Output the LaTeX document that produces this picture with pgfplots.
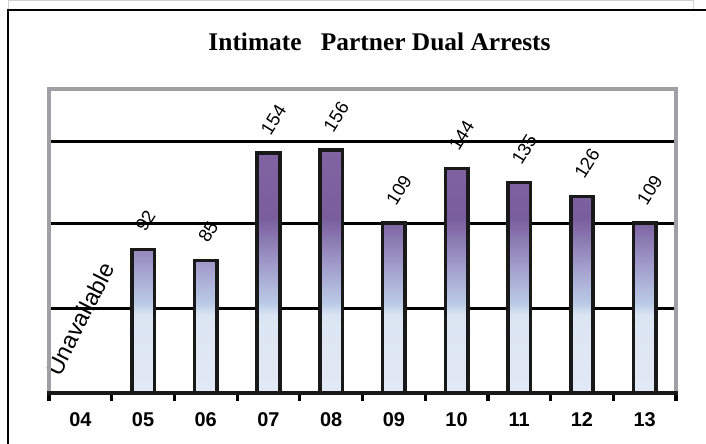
\documentclass[border=0pt]{standalone}
\usepackage{fontspec}
\setmainfont{Liberation Sans}
\newfontfamily\titlefont{Liberation Serif}
\usepackage{pgfplots}
\pgfplotsset{compat=1.18}
\definecolor{ctop}{RGB}{128,100,162}
\definecolor{cdark}{RGB}{121,93,157}
\definecolor{cmid}{RGB}{162,158,204}
\definecolor{clblue}{RGB}{186,202,230}
\definecolor{cpale2}{RGB}{220,229,243}
\definecolor{cpale}{RGB}{226,233,246}
\definecolor{framegray}{RGB}{160,160,164}
\pgfdeclareverticalshading{barshade}{100bp}{color(0bp)=(cpale); color(25bp)=(cpale); color(41bp)=(cpale2); color(43.5bp)=(clblue); color(51bp)=(cmid); color(61bp)=(cdark); color(75bp)=(ctop); color(100bp)=(ctop)}
\begin{document}
\begin{tikzpicture}
\useasboundingbox (0,0) rectangle (706bp,444bp);
% outer frame
\draw[gray!35, line width=1bp] (8bp,443bp) -- (693bp,443bp);
\draw[gray!35, line width=1bp] (8bp,444bp) -- (8bp,434bp);
\draw[gray!35, line width=1bp] (693bp,444bp) -- (693bp,434bp);
\draw[black, line width=2.8bp] (8bp,-5bp) -- (8bp,434bp) -- (712bp,434bp);
% title
\node[anchor=base, inner sep=0pt, font=\titlefont\bfseries\fontsize{25.5}{28}\selectfont] at (379.5bp,393bp) {Intimate\hspace{13bp} Partner Dual Arrests};
\begin{axis}[
  at={(49bp,51bp)}, anchor=south west,
  scale only axis, width=627bp, height=304bp,
  xmin=-0.5, xmax=9.5, ymin=0, ymax=195,
  axis line style={draw=none},
  clip=false,
  /pgf/number format/assume math mode=true,
  xtick={-0.5,0.5,1.5,2.5,3.5,4.5,5.5,6.5,7.5,8.5,9.5},
  xticklabels={},
  xtick pos=bottom, tick align=outside,
  major tick length=7.5bp,
  x tick style={black, line width=3.2bp},
  extra x ticks={0,1,2,3,4,5,6,7,8,9},
  extra x tick labels={04,05,06,07,08,09,10,11,12,13},
  extra x tick style={major tick length=0pt, tick style={draw=none}},
  xticklabel style={font=\bfseries\fontsize{20}{20}\selectfont, inner sep=0pt, text height=14.4bp, text depth=0pt, anchor=north, yshift=-19bp},
  ytick={54.5,109,161.5},
  yticklabels={},
  y tick style={draw=none},
  ymajorgrids,
  major grid style={black, line width=3bp},
]
\addplot[ybar, bar width=22.5bp, draw=black!90, line width=3.6bp, shading=barshade, shade,
  nodes near coords,
  every node near coord/.append style={font=\fontsize{18.5}{18.5}\selectfont, inner sep=0pt, text=black, anchor=west, xshift=-4bp, yshift=18.5bp, rotate=58}]
  coordinates {(1,92) (2,85) (3,154) (4,156) (5,109) (6,144) (7,135) (8,126) (9,109)};
\node[rotate=63, inner sep=0pt, font=\fontsize{23.5}{24}\selectfont] at (axis cs:0,47.5) {Unavailable};
\draw[framegray, line width=3.8bp] (rel axis cs:0,0) -- (rel axis cs:0,1) -- (rel axis cs:1,1) -- (rel axis cs:1,0);
\draw[black!90, line width=3.4bp] ([xshift=-1.7bp]rel axis cs:0,0) -- ([xshift=1.7bp]rel axis cs:1,0);
\end{axis}
\end{tikzpicture}
\end{document}
